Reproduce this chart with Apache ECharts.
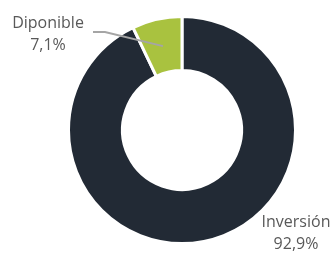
<!DOCTYPE html>
<html>
<head>
<meta charset="utf-8">
<script src="https://cdn.jsdelivr.net/npm/echarts@6/dist/echarts.min.js"></script>
<style>
  html, body { margin: 0; padding: 0; background: #fff; }
  #chart { width: 334px; height: 258px; }
</style>
</head>
<body>
<div id="chart"></div>
<script>
const categories = ['Inversión', 'Diponible']
const values = [92.9, 7.1]
const pctLabels = ['92,9%', '7,1%']
const colors = ['#222A35', '#A9C23F']

// where each label sits (text centre)
const labelPos = [[296, 233], [48, 34]]

const CENTER = [182, 130]
const R_OUT = 112
const R_IN = 61

const chart = echarts.init(document.getElementById('chart'))

// point in the middle of the ring at the mid angle of slice i
function ringMid(i) {
  const total = values.reduce((a, b) => a + b, 0)
  let before = 0
  for (let k = 0; k < i; k++) before += values[k]
  const a = (before + values[i] / 2) / total * Math.PI * 2
  const r = (R_IN + R_OUT) / 2 - 0.5
  return [CENTER[0] + r * Math.sin(a), CENTER[1] - r * Math.cos(a)]
}

const pieBase = {
  type: 'pie',
  center: CENTER,
  radius: [R_IN - 1.5, R_OUT + 1.5],
  startAngle: 90,
  clockwise: true,
  avoidLabelOverlap: false,
  animation: false,
}

chart.setOption({
  animation: false,
  series: [
    {
      ...pieBase,
      z: 2,
      itemStyle: { borderColor: '#fff', borderWidth: 3 },
      label: { show: false },
      labelLine: { show: false },
      data: categories.map((name, i) => ({
        name,
        value: values[i],
        itemStyle: { color: colors[i] },
      })),
    },
    // transparent copy on top, carries the labels and the leader line
    {
      ...pieBase,
      z: 5,
      silent: true,
      itemStyle: { color: 'rgba(0,0,0,0)' },
      label: {
        show: true,
        position: 'outside',
        color: '#595959',
        fontFamily: 'Open Sans',
        fontSize: 16,
        lineHeight: 22,
        align: 'center',
        formatter: p => p.name + '\n' + pctLabels[p.dataIndex],
      },
      labelLine: { show: true, lineStyle: { color: '#A5A5A5', width: 2 } },
      data: categories.map((name, i) => ({
        name,
        value: values[i],
        labelLine: { show: i === 1 },
      })),
      labelLayout: params => {
        const [x, y] = labelPos[params.dataIndex]
        const out = { x, y, align: 'center', verticalAlign: 'middle' }
        if (params.dataIndex === 1) {
          out.labelLinePoints = [ringMid(1), [x + 57, y - 2], [x + 45, y - 2]]
        }
        return out
      },
    },
  ],
})

window.addEventListener('resize', () => chart.resize())
</script>
</body>
</html>
